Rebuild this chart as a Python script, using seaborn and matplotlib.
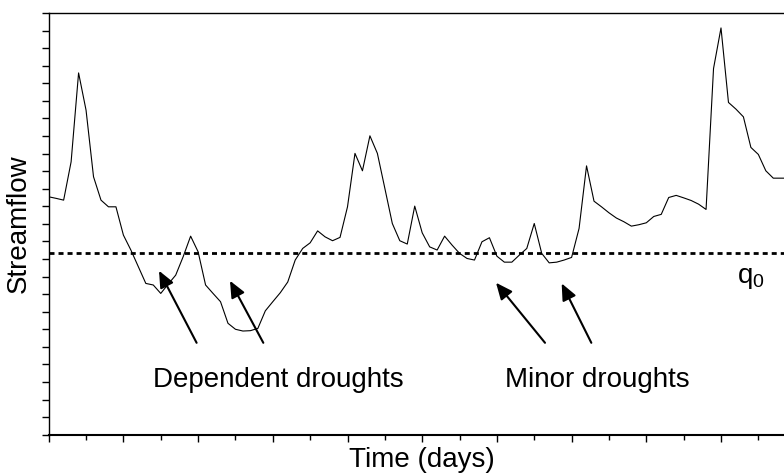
import matplotlib
matplotlib.use("Agg")
import matplotlib.pyplot as plt
import seaborn as sns
import numpy as np
import pandas as pd

# ---- data ----
day = list(range(100))
streamflow = [13.54, 13.45, 13.35, 15.53, 20.59, 18.47, 14.68, 13.35, 12.97, 12.97,
              11.36, 10.51, 9.56, 8.61, 8.52, 8.04, 8.57, 9.08, 10.13, 11.30,
              10.41, 8.52, 8.04, 7.57, 6.34, 6.00, 5.90, 5.92, 6.05, 7.05,
              7.57, 8.08, 8.69, 9.94, 10.60, 10.92, 11.60, 11.26, 11.04, 11.23,
              12.97, 16.01, 15.02, 17.01, 16.01, 14.02, 12.02, 11.04, 10.85, 13.01,
              11.49, 10.69, 10.51, 11.30, 10.79, 10.32, 10.03, 9.94, 10.98, 11.21,
              10.16, 9.82, 9.82, 10.22, 10.60, 12.02, 10.32, 9.78, 9.82, 9.94,
              10.09, 11.74, 15.30, 13.29, 12.97, 12.63, 12.33, 12.12, 11.87, 11.95,
              12.06, 12.42, 12.54, 13.50, 13.62, 13.48, 13.33, 13.12, 12.82, 20.84,
              23.15, 18.91, 18.53, 18.09, 16.35, 15.95, 15.02, 14.60, 14.60, 14.60]
threshold = 10.32
x_major = list(range(0, 101, 10))
x_minor = list(range(5, 100, 10))
y_ticks = list(range(0, 25))

# annotations: (tail x, tail y, head x, head y)
label_dep = "Dependent droughts"
label_min = "Minor droughts"
dep_arrows = [(19.8, 5.23, 14.77, 9.33), (28.73, 5.23, 24.27, 8.76)]
min_arrows = [(66.44, 5.23, 59.88, 8.65), (72.64, 5.23, 68.67, 8.61)]

sns.set_style("ticks")
plt.rcParams["font.family"] = ["Liberation Sans", "DejaVu Sans"]
plt.rcParams["mathtext.default"] = "regular"

fig = plt.figure(figsize=(7.84, 4.73), dpi=100)
ax = fig.add_axes([48.7 / 784, 38.3 / 473, 747 / 784, 421.7 / 473])

df = pd.DataFrame({"day": day, "flow": streamflow})
sns.lineplot(data=df, x="day", y="flow", ax=ax, color="black", lw=0.8)

ax.axhline(threshold, color="black", lw=2.0, linestyle=(0, (1.8, 1.45)))

ax.set_xlim(0, 100)
ax.set_ylim(0, 24)
ax.set_xticks(x_major)
ax.set_xticks(x_minor, minor=True)
ax.set_yticks(y_ticks)
ax.set_xticklabels([])
ax.set_yticklabels([])
ax.tick_params(axis="x", which="major", direction="out", length=5, width=1, color="black")
ax.tick_params(axis="x", which="minor", direction="out", length=3.5, width=1, color="black")
ax.tick_params(axis="y", which="major", direction="out", length=5, width=1, color="black")

for s in ["left", "bottom", "top", "right"]:
    ax.spines[s].set_color("black")
    ax.spines[s].set_linewidth(1.0)
ax.spines["bottom"].set_linewidth(1.5)

ax.set_xlabel("Time (days)", fontsize=20, labelpad=0, color="black")
ax.set_ylabel("Streamflow", fontsize=20, labelpad=4, color="black")

arrowprops = dict(arrowstyle="-|>,head_length=0.5,head_width=0.22", color="black",
                  lw=1.5, mutation_scale=20, shrinkA=0, shrinkB=0)
for tx, ty, hx, hy in dep_arrows + min_arrows:
    ax.annotate("", xy=(hx, hy), xytext=(tx, ty), arrowprops=arrowprops)

ax.text(30.8, 2.73, label_dep, fontsize=20, ha="center", va="baseline", color="black")
ax.text(73.4, 2.73, label_min, fontsize=20, ha="center", va="baseline", color="black")
ax.text(92.1, 8.61, "q$_0$", fontsize=20, ha="left", va="baseline", color="black")

fig.savefig("out.png", dpi=100, facecolor="white")
